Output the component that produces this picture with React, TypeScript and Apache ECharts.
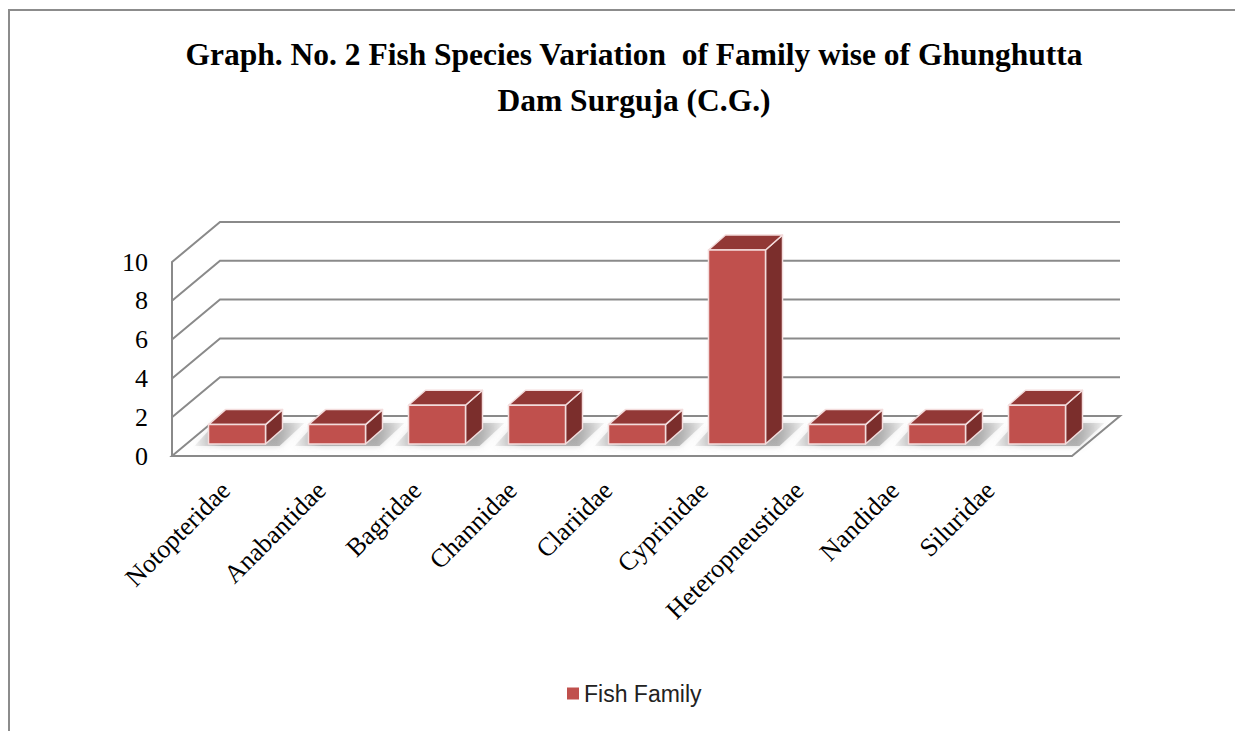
import React, { useEffect, useRef } from "react";
import * as echarts from "echarts";

const categories = [
  "Notopteridae",
  "Anabantidae",
  "Bagridae",
  "Channidae",
  "Clariidae",
  "Cyprinidae",
  "Heteropneustidae",
  "Nandidae",
  "Siluridae",
];
const speciesCount = [1, 1, 2, 2, 1, 10, 1, 1, 2];
const yTicks = [0, 2, 4, 6, 8, 10];
const seriesName = "Fish Family";
const titleText =
  "Graph. No. 2 Fish Species Variation  of Family wise of Ghunghutta\nDam Surguja (C.G.)";

// oblique depth of the chart box
const DX = 48;
const DY = -40;
// bar depth placement
const FRONT_DX = 15;
const FRONT_DY = -12;
const BAR_DX = 17;
const BAR_DY = -15;

const GRID_COLOR = "#8a8a8a";

export default function App() {
  const ref = useRef<HTMLDivElement>(null);

  useEffect(() => {
    document.body.style.margin = "0";
    const chart = echarts.init(ref.current!, null, { renderer: "svg" });

    const wallItem = (params: any, api: any) => {
      const cs = params.coordSys;
      const left = cs.x;
      const right = cs.x + cs.width;
      const v = api.value(1);
      const y = api.coord([0, v])[1];
      if (v === 0) {
        return {
          type: "polygon",
          shape: {
            points: [
              [left, y],
              [right, y],
              [right + DX, y + DY],
              [left + DX, y + DY],
            ],
          },
          style: { fill: "#ffffff", stroke: GRID_COLOR, lineWidth: 2 },
        };
      }
      return {
        type: "polyline",
        shape: {
          points: [
            [left, y],
            [left + DX, y + DY],
            [right + DX, y + DY],
          ],
        },
        style: { fill: "none", stroke: GRID_COLOR, lineWidth: 2 },
      };
    };

    const shadowItem = (params: any, api: any) => {
      const i = api.value(0);
      const base = api.coord([i, 0]);
      const w = api.size([1, 0])[0] * 0.57;
      const x0 = base[0] + FRONT_DX - w / 2;
      const x1 = x0 + w;
      const yb = base[1] + FRONT_DY;
      return {
        type: "polygon",
        shape: {
          points: [
            [x0 - 14, yb + 2],
            [x1 + 14, yb + 2],
            [x1 + BAR_DX + 22, yb + BAR_DY - 6],
            [x0 + BAR_DX - 10, yb + BAR_DY - 6],
          ],
        },
        style: {
          fill: {
            type: "linear",
            x: 0,
            y: 0,
            x2: 1,
            y2: 0,
            colorStops: [
              { offset: 0, color: "rgba(150,150,150,0.1)" },
              { offset: 0.25, color: "rgba(150,150,150,0.65)" },
              { offset: 0.75, color: "rgba(150,150,150,0.65)" },
              { offset: 1, color: "rgba(150,150,150,0.1)" },
            ],
          },
          shadowBlur: 6,
          shadowColor: "rgba(120,120,120,0.5)",
        },
      };
    };

    const barItem = (params: any, api: any) => {
      const i = api.value(0);
      const v = api.value(1);
      const base = api.coord([i, 0]);
      const top = api.coord([i, v]);
      const w = api.size([1, 0])[0] * 0.57;
      const x0 = base[0] + FRONT_DX - w / 2;
      const x1 = x0 + w;
      const yb = base[1] + FRONT_DY;
      const yt = top[1] + FRONT_DY;
      const edge = { stroke: "#f3dcdc", lineWidth: 1.5, lineJoin: "round" };
      return {
        type: "group",
        children: [
          {
            type: "polygon",
            shape: {
              points: [
                [x1, yt],
                [x1, yb],
                [x1 + BAR_DX, yb + BAR_DY],
                [x1 + BAR_DX, yt + BAR_DY],
              ],
            },
            style: { fill: "#7b2e2c", ...edge },
          },
          {
            type: "polygon",
            shape: {
              points: [
                [x0, yt],
                [x1, yt],
                [x1 + BAR_DX, yt + BAR_DY],
                [x0 + BAR_DX, yt + BAR_DY],
              ],
            },
            style: { fill: "#923836", ...edge },
          },
          {
            type: "rect",
            shape: { x: x0, y: yt, width: w, height: yb - yt },
            style: { fill: "#c0504d", ...edge },
          },
        ],
      };
    };

    chart.setOption({
      animation: false,
      backgroundColor: "#ffffff",
      title: {
        text: titleText,
        left: 629,
        top: 26,
        textAlign: "center",
        textStyle: {
          fontFamily: "Liberation Serif",
          fontWeight: "bold",
          fontSize: 31.5,
          lineHeight: 46,
          color: "#000000",
        },
      },
      legend: {
        data: [seriesName],
        left: 562,
        top: 677,
        icon: "rect",
        itemWidth: 12,
        itemHeight: 12,
        itemGap: 8,
        textStyle: {
          fontFamily: "Liberation Sans",
          fontSize: 23,
          color: "#222222",
        },
      },
      graphic: [
        {
          type: "rect",
          shape: { x: 9, y: 10, width: 1240, height: 740 },
          style: { fill: "none", stroke: "#8c8c8c", lineWidth: 2 },
          z: 100,
        },
      ],
      grid: [
        { left: 172, top: 262, width: 900, height: 194 },
        { left: 178, top: 262, width: 860, height: 194 },
      ],
      xAxis: [
        {
          type: "category",
          gridIndex: 0,
          data: categories,
          axisLine: { show: false },
          axisTick: { show: false },
          axisLabel: { show: false },
        },
        {
          type: "category",
          gridIndex: 1,
          data: categories,
          axisLine: { show: false },
          axisTick: { show: false },
          axisLabel: {
            rotate: 45,
            margin: 30,
            interval: 0,
            fontFamily: "Liberation Serif",
            fontSize: 26,
            color: "#000000",
          },
        },
      ],
      yAxis: [
        {
          type: "value",
          gridIndex: 0,
          min: 0,
          max: 10,
          interval: 2,
          axisLine: { show: true, lineStyle: { color: GRID_COLOR, width: 2 } },
          axisTick: { show: false },
          splitLine: { show: false },
          axisLabel: {
            margin: 24,
            fontFamily: "Liberation Serif",
            fontSize: 26,
            color: "#000000",
          },
        },
        {
          type: "value",
          gridIndex: 1,
          min: 0,
          max: 10,
          show: false,
        },
      ],
      series: [
        {
          type: "custom",
          name: "walls",
          xAxisIndex: 0,
          yAxisIndex: 0,
          clip: false,
          silent: true,
          z: 1,
          renderItem: wallItem,
          data: yTicks.map((v) => [0, v]),
        },
        {
          type: "custom",
          name: "shadows",
          xAxisIndex: 0,
          yAxisIndex: 0,
          clip: false,
          silent: true,
          z: 2,
          renderItem: shadowItem,
          data: speciesCount.map((v, i) => [i, v]),
        },
        {
          type: "custom",
          name: seriesName,
          xAxisIndex: 0,
          yAxisIndex: 0,
          clip: false,
          z: 3,
          itemStyle: { color: "#c0504d" },
          renderItem: barItem,
          data: speciesCount.map((v, i) => [i, v]),
        },
      ],
    });

    return () => chart.dispose();
  }, []);

  return (
    <div
      ref={ref}
      style={{ width: 1235, height: 731, background: "#ffffff" }}
    />
  );
}
